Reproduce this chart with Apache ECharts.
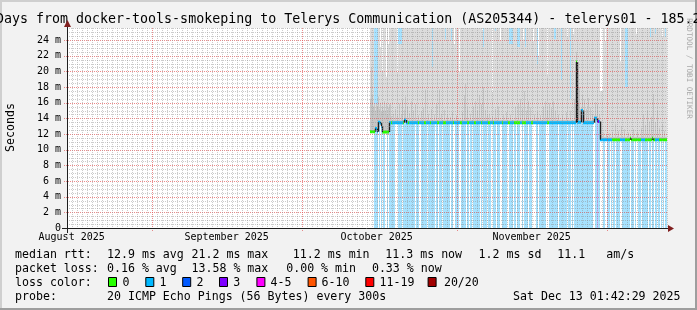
<!DOCTYPE html>
<html><head><meta charset="utf-8">
<script src="https://cdn.jsdelivr.net/npm/echarts@6/dist/echarts.min.js"></script>
<style>html,body{margin:0;padding:0;background:#f2f2f2;}#c{width:697px;height:310px;}</style>
</head><body><div id="c"></div>
<script>
// ---------------- data ----------------
const titleText = 'Days from docker-tools-smokeping to Telerys Communication (AS205344) - telerys01 - 185.2';
const axisStart = Date.UTC(2025, 7, 15, 1, 42, 29);
const axisEnd = Date.UTC(2025, 11, 13, 1, 42, 29);
const firstBucket = Date.UTC(2025, 9, 14, 16, 0, 0);
const bucketHours = 4.8;
const bucketCount = 297;
const yMax = 25.54;
const yTicks = [0, 2, 4, 6, 8, 10, 12, 14, 16, 18, 20, 22, 24];
const yMinorStep = 0.5;
const monthStarts = ['2025-08-01', '2025-09-01', '2025-10-01', '2025-11-01', '2025-12-01'];
const monthLabels = ['August 2025', 'September 2025', 'October 2025', 'November 2025'];

// median rtt (ms) as runs [bucketCount, value]
const medianRuns = [[5,12.3],[2,12.7],[1,12.3],[2,13.5],[1,13.4],[1,13.0],[7,12.25],[15,13.45],[2,13.8],[170,13.45],[1,21.2],[4,13.5],[2,15.0],[11,13.45],[3,14.0],[3,13.6],[30,11.28],[1,11.45],[21,11.28],[1,11.45],[14,11.28]];
// loss class of median line as runs [bucketCount, lostPings]
const lineLossRuns = [[5,0],[7,1],[7,0],[2,1],[1,0],[11,1],[1,0],[4,1],[1,0],[9,1],[1,0],[5,1],[2,0],[4,1],[1,0],[6,1],[2,0],[4,1],[3,0],[7,1],[1,0],[6,1],[2,0],[5,1],[2,0],[5,1],[2,0],[5,1],[1,0],[6,1],[2,0],[3,1],[1,0],[8,1],[1,0],[5,1],[2,0],[4,1],[6,0],[2,1],[4,0],[5,1],[2,0],[14,1],[2,0],[27,1],[1,0],[20,1],[2,3],[13,1],[8,0],[5,1],[16,0],[4,1],[10,0],[4,1],[8,0]];
// loss background: buckets without loss (all others lost 1 ping), plus special ones
const lossFreeBuckets = [0,1,2,3,8,10,12,15,16,18,25,26,27,32,45,49,50,57,65,68,72,80,83,84,89,90,96,99,102,110,112,117,121,122,126,130,131,137,138,143,146,150,151,153,158,162,163,164,165,168,176,177,178,188,197,201,203,223,224,230,231,232,235,236,240,242,245,250,251,260,264,266,267,271,278,281,284,287,290,292,294];
const lossSpecialBuckets = [[227, 3]];
// smoke: max ping per bucket where it stays below the top of the graph
const smokeMaxLow = [[4,15.8],[5,15.8],[6,15.8],[7,15.8],[10,23.1],[12,20.0],[16,19.3],[18,23.5],[27,19.9],[28,23.5],[29,23.5],[30,23.5],[31,23.5],[62,20.6],[75,24.1],[81,23.9],[84,23.5],[89,20.0],[112,25.2],[113,23.1],[122,17.4],[125,25.2],[130,23.9],[139,23.5],[140,23.5],[141,23.5],[142,23.5],[147,23.1],[148,23.1],[149,23.1],[153,24.1],[155,23.1],[163,23.9],[167,20.9],[168,22.0],[177,19.3],[184,24.1],[185,24.1],[191,18.9],[197,24.4],[200,16.5],[203,24.8],[230,17.5],[231,17.5],[232,17.5],[235,23.9],[250,21.3],[255,18.0],[256,18.0],[257,18.0],[266,24.8],[280,24.4],[285,24.8],[292,24.4],[295,24.4]];
// denser smoke (inner pings) upper edge
const smokeMidSpikes = [[0,16.5],[1,20.5],[2,17],[3,15.5],[4,16],[5,15],[6,16.5],[7,15.5],[8,16.8],[9,15.2],[10,16],[11,14.8],[12,15.5],[13,15],[14,16.2],[15,15],[16,15.8],[17,14.6],[18,15.4],[19,15.8],[20,15.8],[21,14.3],[23,14.6],[25,15.2],[27,14.4],[29,15.9],[31,14.5],[32,16.4],[34,15.1],[35,16.8],[37,15.5],[39,14.7],[41,16.2],[43,15],[45,15.8],[48,14.4],[51,14.9],[53,15.3],[55,17.7],[58,14.6],[61,15.2],[64,14.5],[66,15.8],[69,17.7],[71,14.6],[74,15.1],[77,14.5],[80,14.2],[82,14.8],[86,14.4],[92,14.8],[94,17.0],[95,18.4],[97,15.2],[100,14.6],[103,15.5],[105,16.2],[107,15.0],[109,17.0],[111,15.8],[113,18.0],[115,15.1],[117,14.5],[119,14.6],[122,14.3],[125,15.2],[128,15.5],[133,14.4],[136,14.8],[140,14.5],[145,15.5],[148,15.8],[150,16.5],[152,15.2],[154,17.5],[156,15],[158,16.2],[160,15.4],[164,14.5],[167,14.8],[170,14.4],[173,15.5],[175,16.2],[177,15.1],[179,16.0],[181,15.3],[183,16.2],[185,15.0],[188,14.5],[192,14.4],[196,14.8],[200,15.0],[204,16.5],[206,22.5],[207,17.5],[208,16],[209,18],[210,15.2],[212,17],[214,16.4],[216,15.2],[218,16.6],[220,15.4],[222,14.6],[225,16.1],[227,15.8],[229,14.5],[231,12.0],[233,12.2],[236,11.9],[239,12.1],[242,12.3],[245,13.3],[248,12.4],[251,13.0],[254,12.6],[258,12.2],[263,12.6],[267,12.3],[271,12.8],[273,14.5],[275,13.2],[277,15.0],[279,13.6],[281,14.2],[283,17.1],[285,13.5],[287,15.0],[289,12.8],[292,13.3],[294,12.4]];

const statsRtt = ['median rtt:', '12.9 ms avg', '21.2 ms max', '11.2 ms min', '11.3 ms now', '1.2 ms sd', '11.1', 'am/s'];
const statsLoss = ['packet loss:', '0.16 % avg', '13.58 % max', '0.00 % min', '0.33 % now'];
const lossLegendLabels = ['0', '1', '2', '3', '4-5', '6-10', '11-19', '20/20'];
const lossLegendColors = ['#26ff00', '#00b8ff', '#0059ff', '#7e00ff', '#ff00ff', '#ff5500', '#ff0000', '#a10000'];
const probeText = ['probe:', '20 ICMP Echo Pings (56 Bytes) every 300s', 'Sat Dec 13 01:42:29 2025'];

// ---------------- styling ----------------
const FONT = '"DejaVu Sans Mono", monospace';
const G = { left: 67, top: 28, width: 600, height: 200 };
const lineColor = { 0: '#26ff00', 1: '#00b8ff', 2: '#0059ff', 3: '#7e00ff' };
const bgColor = { 1: '#a6e2ff', 3: '#cdb2ff' };
const DAY = 86400000;

function expandRuns(runs) { const out = []; runs.forEach(([n, v]) => { for (let k = 0; k < n; k++) out.push(v); }); return out; }
const medianArr = expandRuns(medianRuns);
const lineLossArr = expandRuns(lineLossRuns);
const bgLossArr = new Array(bucketCount).fill(1);
lossFreeBuckets.forEach(i => bgLossArr[i] = 0);
lossSpecialBuckets.forEach(([i, v]) => bgLossArr[i] = v);
const smokeMaxArr = new Array(bucketCount).fill(99);
smokeMaxLow.forEach(([i, v]) => smokeMaxArr[i] = v);
const smokeMidArr = medianArr.map(m => m + 0.35);
smokeMidSpikes.forEach(([i, v]) => smokeMidArr[i] = v);

const bucketMs = bucketHours * 3600000;
const smokeData = [], medData = [];
for (let i = 0; i < bucketCount; i++) {
  const t = firstBucket + i * bucketMs;
  smokeData.push([t, bgLossArr[i], smokeMaxArr[i], smokeMidArr[i], medianArr[i]]);
  medData.push([t, medianArr[i], lineLossArr[i]]);
}

function renderSmoke(params, api) {
  const t = api.value(0);
  const a = api.coord([t, 0]), b = api.coord([t + bucketMs, 0]);
  const x0 = Math.round(a[0]), w = Math.max(1, Math.round(b[0]) - x0);
  const yOf = v => api.coord([t, Math.max(0, Math.min(v, yMax))])[1];
  const yBot = a[1], yTop = yOf(yMax);
  const ch = [];
  const loss = api.value(1);
  if (loss > 0) ch.push({ type: 'rect', shape: { x: x0, y: yTop, width: w, height: yBot - yTop }, style: { fill: bgColor[loss] } });
  const med = api.value(4);
  const yLow = yOf(med - 0.15);
  const yHi = yOf(api.value(2));
  ch.push({ type: 'rect', shape: { x: x0, y: yHi, width: w, height: yLow - yHi }, style: { fill: '#dcdcdc' } });
  const yMid = yOf(Math.min(api.value(3), api.value(2)));
  ch.push({ type: 'rect', shape: { x: x0, y: yMid, width: w, height: yLow - yMid }, style: { fill: '#c6c6c6' } });
  return { type: 'group', children: ch };
}
function renderMedian(params, api) {
  const i = params.dataIndex;
  const t = api.value(0);
  const p = api.coord([t, api.value(1)]);
  const b = api.coord([t + bucketMs, api.value(1)]);
  const x0 = Math.round(p[0]), w = Math.max(1, Math.round(b[0]) - x0);
  const ch = [{ type: 'rect', shape: { x: x0, y: p[1] - 1.5, width: w, height: 3 }, style: { fill: lineColor[api.value(2)] } }];
  if (i > 0 && medData[i - 1][1] !== api.value(1)) {
    const yp = api.coord([t, medData[i - 1][1]])[1];
    ch.push({ type: 'line', shape: { x1: x0 + 0.5, y1: yp, x2: x0 + 0.5, y2: p[1] }, style: { stroke: '#202020', lineWidth: 1.4 } });
  }
  return { type: 'group', children: ch };
}

const chart = echarts.init(document.getElementById('c'), null, { renderer: 'canvas', width: 697, height: 310 });
chart.setOption({
  animation: false,
  useUTC: true,
  backgroundColor: '#f2f2f2',
  grid: { left: G.left, top: G.top, width: G.width, height: G.height, show: true, backgroundColor: '#ffffff', borderWidth: 0 },
  xAxis: { type: 'time', min: axisStart, max: axisEnd, show: false },
  yAxis: {
    type: 'value', min: 0, max: yMax, interval: 2,
    axisLine: { show: false }, axisTick: { show: false }, splitLine: { show: false },
    axisLabel: { margin: 6, color: '#000', fontFamily: FONT, fontSize: 10,
      formatter: v => (yTicks.indexOf(v) < 0 ? '' : (v === 0 ? '0' : v + ' m')) }
  },
  series: [
    { type: 'custom', name: 'smoke', data: smokeData, renderItem: renderSmoke, clip: true, z: 2, silent: true },
    { type: 'custom', name: 'median', data: medData, renderItem: renderMedian, clip: true, z: 4, silent: true }
  ]
});

// ---------- decorations: grid (over data, like rrdtool), axes, labels, legend ----------
const gx = [];
const axisCol = '#1f1f1f', arrowCol = '#801f1f';
const minorCol = 'rgba(143,143,143,0.45)', majorCol = 'rgba(222,79,79,0.65)';
const x0 = G.left, yB = G.top + G.height, xR = G.left + G.width, yT = G.top;
const monthMs = monthStarts.map(s => Date.parse(s + 'T00:00:00Z'));
// horizontal grid
for (let v = yMinorStep; v < yMax; v += yMinorStep) {
  const major = yTicks.indexOf(v) >= 0;
  const py = Math.round(chart.convertToPixel({ yAxisIndex: 0 }, v)) + 0.5;
  gx.push({ type: 'line', silent: true, shape: { x1: major ? x0 - 3 : x0, y1: py, x2: xR, y2: py }, style: { stroke: major ? majorCol : minorCol, lineWidth: 1, lineDash: [1, 1] }, z: 15 });
}
// vertical grid (daily minor, monthly major)
for (let t = Date.UTC(2025, 7, 16); t < axisEnd; t += DAY) {
  const major = monthMs.indexOf(t) >= 0;
  const px = Math.round(chart.convertToPixel({ xAxisIndex: 0 }, t)) + 0.5;
  gx.push({ type: 'line', silent: true, shape: { x1: px, y1: yT, x2: px, y2: major ? yB + 3 : yB }, style: { stroke: major ? majorCol : minorCol, lineWidth: 1, lineDash: [1, 1] }, z: 15 });
}
gx.push({ type: 'line', shape: { x1: x0 - 5, y1: yB + 0.5, x2: xR + 4, y2: yB + 0.5 }, style: { stroke: axisCol, lineWidth: 1 }, z: 20 });
gx.push({ type: 'line', shape: { x1: x0 + 0.5, y1: yB + 5, x2: x0 + 0.5, y2: yT - 5 }, style: { stroke: axisCol, lineWidth: 1 }, z: 20 });
gx.push({ type: 'polygon', shape: { points: [[xR + 1, yB - 3], [xR + 7, yB + 0.5], [xR + 1, yB + 4]] }, style: { fill: arrowCol }, z: 21 });
gx.push({ type: 'polygon', shape: { points: [[x0 - 3, yT - 1], [x0 + 0.5, yT - 8], [x0 + 4, yT - 1]] }, style: { fill: arrowCol }, z: 21 });
// month labels (centred on the month like rrdtool)
monthLabels.forEach((s, k) => {
  const cx = chart.convertToPixel({ xAxisIndex: 0 }, monthMs[k] + 15 * DAY);
  gx.push({ type: 'text', x: cx, y: 237.5, style: { text: s, font: '10px ' + FONT, fill: '#000', align: 'center', verticalAlign: 'middle' }, z: 20 });
});
// title, y name, watermark
gx.push({ type: 'text', x: -4, y: 19.5, style: { text: titleText, font: '13.3px ' + FONT, fill: '#000', align: 'left', verticalAlign: 'middle' }, z: 20 });
gx.push({ type: 'text', x: 11, y: 127.5, rotation: Math.PI / 2, style: { text: 'Seconds', font: '11.6px ' + FONT, fill: '#000', align: 'center', verticalAlign: 'middle' }, z: 20 });
gx.push({ type: 'text', x: 689, y: 68.5, rotation: -Math.PI / 2, style: { text: 'RRDTOOL / TOBI OETIKER', font: '7.6px ' + FONT, fill: '#a9a9a9', align: 'center', verticalAlign: 'middle' }, z: 20 });
// legend rows
const LF = '11.6px ' + FONT;
const txt = (s, x, y, al) => ({ type: 'text', x: x, y: y, style: { text: s, font: LF, fill: '#000', align: al || 'left', verticalAlign: 'middle' }, z: 20 });
const rttX = [15, 107, 191.5, 292.8, 385.3, 478.6, 557.3, 606.2];
statsRtt.forEach((s, k) => gx.push(txt(s, rttX[k], 254.5)));
const lossX = [15, 107, 191.5, 286.2, 371.9];
statsLoss.forEach((s, k) => gx.push(txt(s, lossX[k], 268.5)));
gx.push(txt('loss color:', 15, 282.5));
const swX = [108, 145.3, 182.2, 219, 256.4, 307.6, 365.3, 427.6];
const swLabX = [122.5, 159.5, 196.5, 233.3, 270.5, 321.5, 379.5, 443.9];
lossLegendLabels.forEach((s, k) => {
  gx.push({ type: 'rect', shape: { x: swX[k] + 0.5, y: 277.5, width: 8, height: 9 }, style: { fill: lossLegendColors[k], stroke: '#000', lineWidth: 1 }, z: 20 });
  gx.push(txt(s, swLabX[k], 282.5));
});
gx.push(txt(probeText[0], 15, 296.5));
gx.push(txt(probeText[1], 107, 296.5));
gx.push(txt(probeText[2], 680.5, 296.5, 'right'));
// frame shading (under text)
gx.push({ type: 'rect', shape: { x: 0, y: 0, width: 697, height: 2 }, style: { fill: '#cfcfcf' }, z: 1 });
gx.push({ type: 'rect', shape: { x: 0, y: 0, width: 2, height: 310 }, style: { fill: '#cfcfcf' }, z: 1 });
gx.push({ type: 'rect', shape: { x: 0, y: 308, width: 697, height: 2 }, style: { fill: '#9e9e9e' }, z: 1 });
gx.push({ type: 'rect', shape: { x: 695, y: 0, width: 2, height: 310 }, style: { fill: '#9e9e9e' }, z: 1 });
chart.setOption({ graphic: gx });
</script>
</body></html>
